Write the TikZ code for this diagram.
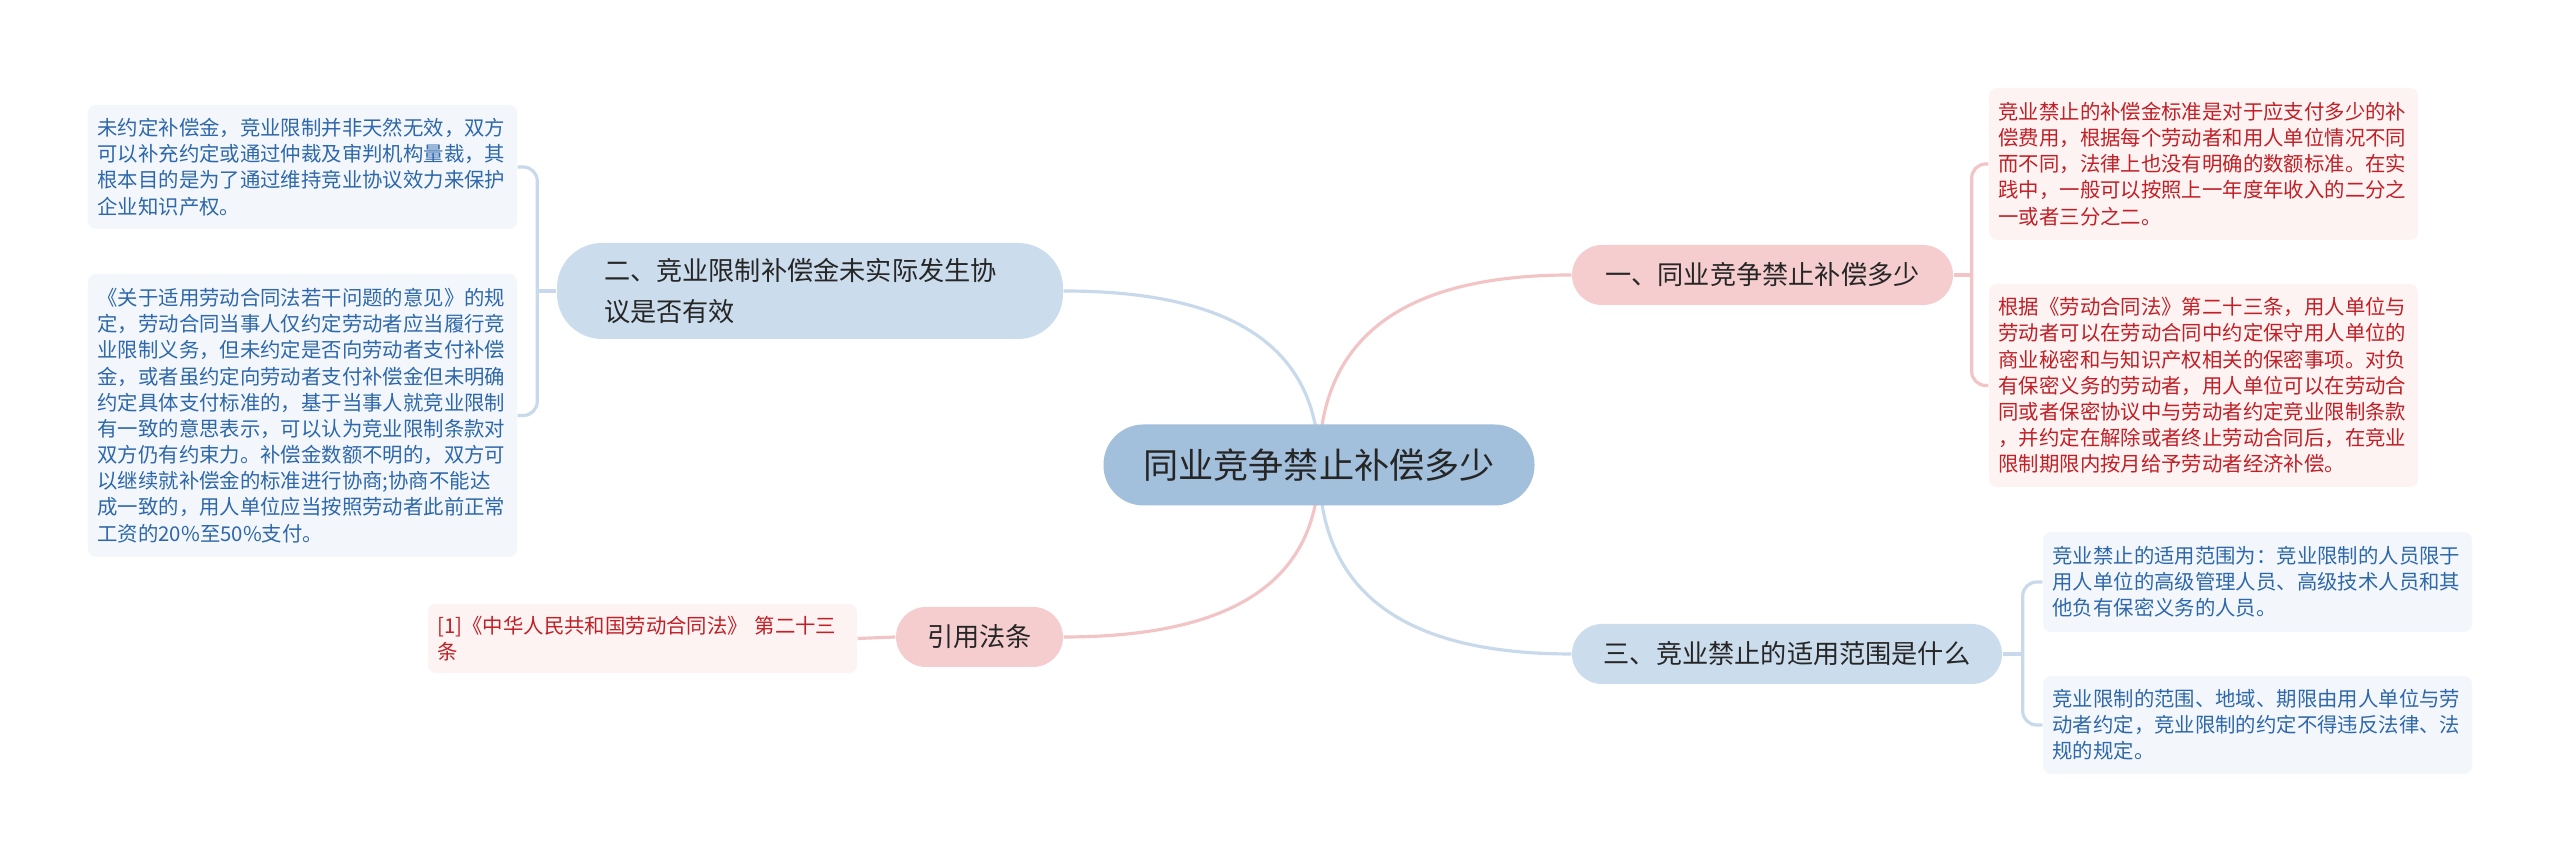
\documentclass[tikz,border=0pt]{standalone}
\usepackage{fontspec}
\setmainfont{Noto Sans CJK SC}
\usetikzlibrary{calc,backgrounds}

\definecolor{rootfill}{RGB}{162,191,220}
\definecolor{bluefill}{RGB}{203,220,237}
\definecolor{pinkfill}{RGB}{245,205,206}
\definecolor{blueleaf}{RGB}{243,247,252}
\definecolor{pinkleaf}{RGB}{253,243,243}
\definecolor{bluetext}{RGB}{46,104,170}
\definecolor{pinktext}{RGB}{192,32,38}
\definecolor{blueline}{RGB}{199,217,234}
\definecolor{pinkline}{RGB}{243,196,198}
\definecolor{darktext}{RGB}{38,38,38}

\tikzset{
  rootbox/.style={fill=rootfill, rounded corners=0.4cm, minimum width=4.31cm, minimum height=0.81cm, text=darktext, font=\fontsize{10}{12}\selectfont},
  topicbox/.style={rounded corners=0.3cm, minimum height=0.6cm, inner xsep=0.3cm, text=darktext, font=\fontsize{7.45}{11.7}\selectfont},
  leafbox/.style={rounded corners=0.08cm, text width=4.1cm, inner xsep=0.095cm, align=left, font=\fontsize{5.8}{7.45}\selectfont},
  blueleafbox/.style={leafbox, fill=blueleaf, text=bluetext},
  pinkleafbox/.style={leafbox, fill=pinkleaf, text=pinktext},
  link/.style={line width=0.9pt},
  branch/.style={to path={.. controls ($(\tikztostart)!0.67!(\tikztostart |- \tikztotarget)$) and ($(\tikztotarget)!0.67!(\tikztostart |- \tikztotarget)$) .. (\tikztotarget)}}
}

\begin{document}
\begin{tikzpicture}
\useasboundingbox (0,0) rectangle (25.6,8.64);

% centre and main branches
\node[rootbox] (root) at (13.19,3.99) {同业竞争禁止补偿多少};
\node[topicbox, fill=pinkfill, minimum width=3.81cm] (one) at (17.625,5.89) {一、同业竞争禁止补偿多少};
\node[topicbox, fill=bluefill, minimum width=4.30cm] (three) at (17.87,2.10) {三、竞业禁止的适用范围是什么};
\node[topicbox, fill=bluefill, rounded corners=0.45cm, minimum height=0.96cm, text width=4.12cm, inner xsep=0.47cm, align=left] (two) at (8.10,5.73) {二、竞业限制补偿金未实际发生协\\议是否有效};
\node[topicbox, fill=pinkfill, minimum width=1.67cm] (cite) at (9.795,2.27) {引用法条};

% leaves
\node[blueleafbox, minimum height=1.24cm] (l1) at (3.025,6.97) {未约定补偿金，竞业限制并非天然无效，双方\\可以补充约定或通过仲裁及审判机构量裁，其\\根本目的是为了通过维持竞业协议效力来保护\\企业知识产权。};
\node[blueleafbox, minimum height=2.83cm] (l2) at (3.025,4.485) {《关于适用劳动合同法若干问题的意见》的规\\定，劳动合同当事人仅约定劳动者应当履行竞\\业限制义务，但未约定是否向劳动者支付补偿\\金，或者虽约定向劳动者支付补偿金但未明确\\约定具体支付标准的，基于当事人就竞业限制\\有一致的意思表示，可以认为竞业限制条款对\\双方仍有约束力。补偿金数额不明的，双方可\\以继续就补偿金的标准进行协商;协商不能达\\成一致的，用人单位应当按照劳动者此前正常\\工资的20\%至50\%支付。};
\node[pinkleafbox, minimum height=1.52cm] (r1) at (22.035,7.00) {竞业禁止的补偿金标准是对于应支付多少的补\\偿费用，根据每个劳动者和用人单位情况不同\\而不同，法律上也没有明确的数额标准。在实\\践中，一般可以按照上一年度年收入的二分之\\一或者三分之二。};
\node[pinkleafbox, minimum height=2.03cm] (r2) at (22.035,4.785) {根据《劳动合同法》第二十三条，用人单位与\\劳动者可以在劳动合同中约定保守用人单位的\\商业秘密和与知识产权相关的保密事项。对负\\有保密义务的劳动者，用人单位可以在劳动合\\同或者保密协议中与劳动者约定竞业限制条款\\，并约定在解除或者终止劳动合同后，在竞业\\限制期限内按月给予劳动者经济补偿。};
\node[blueleafbox, minimum height=1.00cm] (r3) at (22.575,2.82) {竞业禁止的适用范围为：竞业限制的人员限于\\用人单位的高级管理人员、高级技术人员和其\\他负有保密义务的人员。};
\node[blueleafbox, minimum height=0.98cm] (r4) at (22.575,1.39) {竞业限制的范围、地域、期限由用人单位与劳\\动者约定，竞业限制的约定不得违反法律、法\\规的规定。};
\node[pinkleafbox, minimum height=0.69cm] (citeleaf) at (6.425,2.255) {{[1]}《中华人民共和国劳动合同法》 第二十三\\条};

% connectors behind the boxes
\begin{scope}[on background layer]
\fill[white] (0,0) rectangle (25.6,8.64);
\draw[link, pinkline] (root.center) to[branch] (one.west);
\draw[link, blueline] (root.center) to[branch] (two.east);
\draw[link, blueline] (root.center) to[branch] (three.west);
\draw[link, pinkline] (root.center) to[branch] (cite.east);

\draw[link, pinkline] (one.east) -- ++(0.18,0) coordinate (onej);
\draw[link, pinkline, rounded corners=0.14cm] (onej) |- (r1.west);
\draw[link, pinkline, rounded corners=0.14cm] (onej) |- (r2.west);
\draw[link, blueline] (three.east) -- ++(0.2,0) coordinate (threej);
\draw[link, blueline, rounded corners=0.14cm] (threej) |- (r3.west);
\draw[link, blueline, rounded corners=0.14cm] (threej) |- (r4.west);
\draw[link, blueline] (two.west) -- ++(-0.19,0) coordinate (twoj);
\draw[link, blueline, rounded corners=0.14cm] (twoj) |- (l1.east);
\draw[link, blueline, rounded corners=0.14cm] (twoj) |- (l2.east);
\draw[link, pinkline] (cite.west) -- (citeleaf.east);
\end{scope}
\end{tikzpicture}
\end{document}
